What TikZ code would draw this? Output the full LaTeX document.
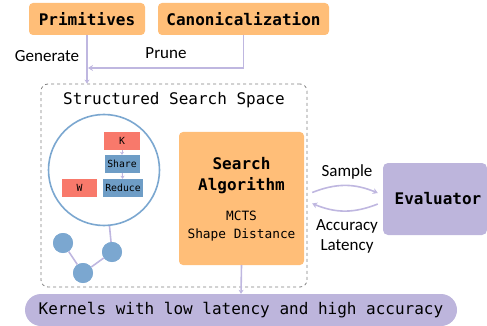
\documentclass[tikz,border=0pt]{standalone}
\usepackage{fontspec}
\setmonofont{DejaVu Sans Mono}
\setsansfont{Carlito}
\usetikzlibrary{arrows.meta}

\definecolor{boxorange}{HTML}{FFBE78}
\definecolor{boxpurple}{HTML}{BDB5DC}
\definecolor{linepurple}{HTML}{BFB7E0}
\definecolor{boxred}{HTML}{F8796B}
\definecolor{boxblue}{HTML}{6E9DC6}
\definecolor{ringblue}{HTML}{7BA7D0}

\begin{document}
\begin{tikzpicture}[x=1pt,y=-1pt,
    orangebox/.style={fill=boxorange, rounded corners=4pt, inner sep=0pt, font=\ttfamily\bfseries\fontsize{16}{19}\selectfont},
    opbox/.style={inner sep=0pt, minimum height=18pt, font=\ttfamily\fontsize{9.8}{11}\selectfont},
    link/.style={draw=linepurple, line width=1.6pt},
    arrow/.style={link, -{Stealth[length=5pt,width=6pt]}},
    label/.style={font=\sffamily\fontsize{17}{20.5}\selectfont, align=center},
    dot/.style={circle, fill=ringblue, minimum size=20pt, inner sep=0pt}]
    \useasboundingbox (0,0) rectangle (487,326);

    % Draw the two input boxes at the top
    \node[orangebox, minimum width=116pt, minimum height=32pt] (prim) at (87,19) {Primitives};
    \node[orangebox, minimum width=171pt, minimum height=32pt] (canon) at (243.5,19) {Canonicalization};

    % Draw the search space frame and its title
    \node[draw=gray, dashed, line width=0.8pt, rounded corners=7pt, minimum width=266pt, minimum height=203pt] (space) at (174,185.5) {};
    \node[font=\ttfamily\fontsize{16}{19}\selectfont] (title) at (174,100) {Structured Search Space};

    % Draw the zoomed-in circle with the operators
    \node[circle, draw=ringblue, line width=1.6pt, minimum size=111pt, inner sep=0pt] (zoom) at (104,170) {};
    \node[opbox, fill=boxred, minimum width=36pt] (k) at (122,141) {K};
    \node[opbox, fill=boxblue, minimum width=35pt] (share) at (122,164) {Share};
    \node[opbox, fill=boxblue, minimum width=40pt] (reduce) at (123,188) {Reduce};
    \node[opbox, fill=boxred, minimum width=35pt] (w) at (79.5,188) {W};
    \draw[link, line width=1pt, -{Stealth[length=3pt,width=4pt]}] (k) -- (share);
    \draw[link, line width=1pt, -{Stealth[length=3pt,width=4pt]}] (share) -- (reduce);

    % Draw the small graph below the circle
    \foreach \name/\x/\y in {n1/63/243, n2/112/252, n3/83/273} {
        \node[dot] (\name) at (\x,\y) {};
    }
    \draw[link] (zoom) -- (n2);
    \draw[link] (n1) -- (n3) -- (n2);
    \foreach \name in {n1, n2, n3} {
        \node[dot] at (\name) {};
    }

    % Draw the search algorithm box
    \node[fill=boxorange, rounded corners=4pt, minimum width=125pt, minimum height=133pt] (search) at (241.5,198.5) {};
    \node[font=\ttfamily\bfseries\fontsize{16}{21}\selectfont, align=center] (searchtxt) at (241.5,175.5) {Search\\Algorithm};
    \node[font=\ttfamily\fontsize{12.8}{18}\selectfont, align=center] (searchsub) at (241.5,226) {MCTS\\Shape Distance};

    % Draw the evaluator and the output pill
    \node[fill=boxpurple, rounded corners=5pt, minimum width=104pt, minimum height=72pt, font=\ttfamily\bfseries\fontsize{16}{19}\selectfont] (eval) at (435,199) {\hspace{6pt}Evaluator};
    \node[fill=boxpurple, rounded corners=16pt, minimum width=432pt, minimum height=32pt, font=\ttfamily\fontsize{16}{19}\selectfont] (out) at (241,310) {Kernels with low latency and high accuracy};

    % Draw the connectors
    \draw[arrow, -{Stealth[length=4pt,width=5pt]}] (prim.south) -- (prim.south |- space.north);
    \coordinate (corner) at (canon.south |- 0,68);
    \draw[arrow] (canon.south) -- (corner) -- ([xshift=1pt]prim.south |- corner);
    \draw[arrow, -{Stealth[length=4pt,width=5pt]}] (search.south) -- (out.north);
    \draw[arrow] ([xshift=8pt,yshift=6pt]search.east) to[bend left=22] ([xshift=-5pt,yshift=6pt]eval.west);
    \draw[arrow] ([xshift=-5pt,yshift=-5pt]eval.west) to[bend left=22] ([xshift=8pt,yshift=-5pt]search.east);

    % Draw the labels
    \node[label] (gen) at (47,56) {Generate};
    \node[label] (prune) at (166,53) {Prune};
    \node[label] (sample) at (347,172) {Sample};
    \node[label] (acc) at (347,236.5) {Accuracy\\Latency};
\end{tikzpicture}
\end{document}
